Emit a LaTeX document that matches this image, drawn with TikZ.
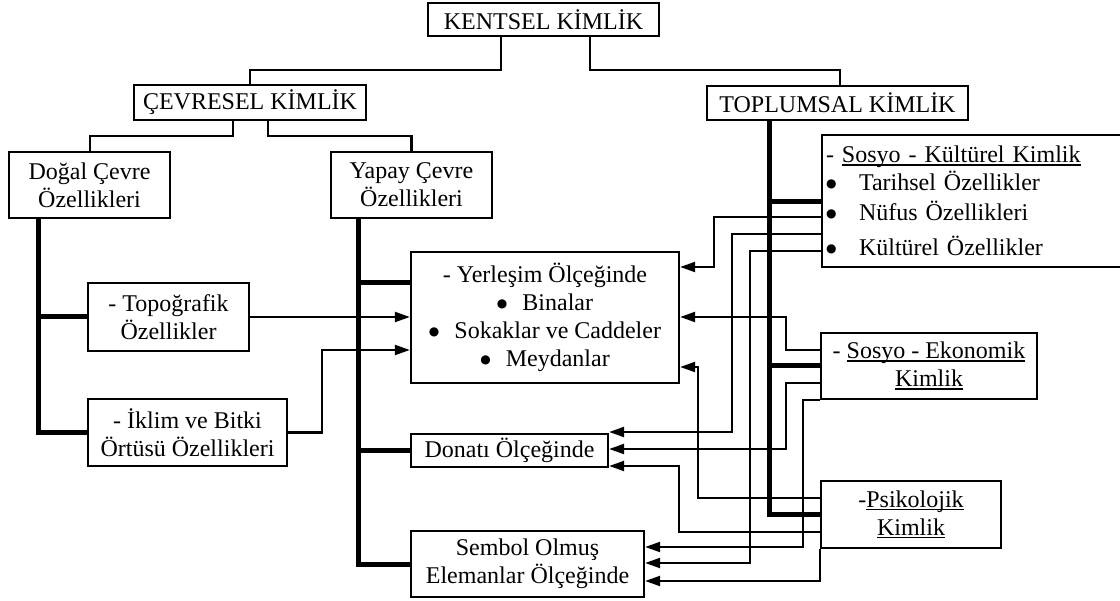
\documentclass[tikz,border=0pt]{standalone}
\usepackage{fontspec}
\setmainfont{Liberation Serif}
\newfontfamily\dvsans{DejaVu Sans}
\usetikzlibrary{arrows.meta}
\newcommand\myul[1]{\setbox0\hbox{#1}\rlap{\rule[-2.8pt]{\wd0}{1.5pt}}\box0}
\newcommand\bigdot{\raisebox{3.6pt}{\dvsans\fontsize{12}{12}\selectfont ●}}
\newcommand\bul{\makebox[25.5pt][l]{\bigdot}}
\tikzset{
  box/.style={draw, line width=2.3pt, inner sep=0pt, align=center, font=\fontsize{24}{28}\selectfont},
  conn/.style={line width=2.2pt},
  thk/.style={line width=5pt},
  arrowline/.style={line width=2.2pt, -{Triangle[length=15pt,width=10pt]}},
}
\begin{document}
\begin{tikzpicture}[x=1pt,y=-1pt]
\fill[white] (0,0) rectangle (1120,601);
\useasboundingbox (0,0) rectangle (1120,601);

% boxes
\node[box, minimum width=231pt, minimum height=33pt] (kent) at (543.5,19.5) {KENTSEL KİMLİK};
\node[box, minimum width=232pt, minimum height=35pt] (cev) at (250,102.5) {ÇEVRESEL KİMLİK};
\node[box, minimum width=261pt, minimum height=34pt] (top) at (837.5,103) {TOPLUMSAL KİMLİK};
\node[box, minimum width=161pt, minimum height=66pt] (dogal) at (89.5,185) {Doğal Çevre\\Özellikleri};
\node[box, minimum width=161pt, minimum height=66pt] (yapay) at (411.5,185) {Yapay Çevre\\Özellikleri};
\node[box, minimum width=161pt, minimum height=68pt] (topo) at (168.5,317) {- Topoğrafik\\Özellikler};
\node[box, minimum width=199pt, minimum height=67pt] (iklim) at (187.5,432.5) {- İklim ve Bitki\\Örtüsü Özellikleri};
\node[box, minimum width=268pt, minimum height=131pt] (yer) at (545,317.5)
  {- Yerleşim Ölçeğinde\\\bul Binalar\\\bul Sokaklar ve Caddeler\\\bul Meydanlar};
\node[box, minimum width=197pt, minimum height=33pt] (donati) at (509.5,450.5) {Donatı Ölçeğinde};
\node[box, minimum width=233pt, minimum height=66pt] (sembol) at (527.5,564) {Sembol Olmuş\\Elemanlar Ölçeğinde};
\node[box, align=left, inner xsep=4pt, text width=291pt, minimum height=132pt] (sk) at (971.5,201)
  {- \myul{Sosyo - Kültürel Kimlik}\\
   \makebox[33pt][l]{\bigdot}Tarihsel Özellikler\\[2pt]
   \makebox[33pt][l]{\bigdot}Nüfus Özellikleri\\[7pt]
   \makebox[33pt][l]{\bigdot}Kültürel Özellikler};
\node[box, minimum width=216pt, minimum height=66pt] (se) at (929,366) {- \myul{Sosyo - Ekonomik}\\\myul{Kimlik}};
\node[box, minimum width=180pt, minimum height=67pt] (psi) at (911,514.5) {-\myul{Psikolojik}\\\myul{Kimlik}};

% tree connectors
\draw[conn] (kent.south -| 501,0) |- (250,70) -- (cev.north);
\draw[conn] (kent.south -| 590,0) |- (840,70) -- (top.north -| 840,0);
\draw[conn] (cev.south -| 233,0) |- (90,136) -- (dogal.north -| 90,0);
\draw[conn] (cev.south -| 268,0) |- (411.5,136) -- (yapay.north);

% thick trunks
\draw[thk] (dogal.south -| 38,0) |- (iklim.west);
\draw[thk] (topo.west -| 38,0) -- (topo.west);
\draw[thk] (yapay.south -| 358,0) |- (sembol.west);
\draw[thk] (yer.west |- 0,283) -- (358,283);
\draw[thk] (donati.west -| 358,0) -- (donati.west);
\draw[thk] (top.south -| 769,0) |- (psi.west);
\draw[thk] (sk.west |- 0,202) -- (769,202);
\draw[thk] (se.west -| 769,0) -- (se.west);

% left arrows
\draw[arrowline] (topo.east) -- (yer.west |- topo.east);
\draw[arrowline] (iklim.east) -| (322,350) -- (yer.west |- 0,350);

% Sosyo-Kulturel
\draw[arrowline] (sk.west |- 0,217) -| (714,267) -- (yer.east |- 0,267);
\draw[arrowline] (sk.west |- 0,234) -| (732,432) -- (donati.east |- 0,432);
\draw[arrowline] (sk.west |- 0,251) -| (750,563) -- (sembol.east |- 0,563);

% Sosyo-Ekonomik
\draw[arrowline] (se.west |- 0,350) -| (786,317) -- (yer.east |- 0,317);
\draw[arrowline] (se.west |- 0,383) -| (786,449) -- (donati.east |- 0,449);
\draw[arrowline] (se.south west) -| (803,547) -- (sembol.east |- 0,547);

% Psikolojik
\draw[arrowline] (psi.west |- 0,498) -| (698,367) -- (yer.east |- 0,367);
\draw[arrowline] (psi.west |- 0,532) -| (679,466) -- (donati.east |- 0,466);
\draw[arrowline] (psi.south west) |- (sembol.east |- 0,581);
\end{tikzpicture}
\end{document}
